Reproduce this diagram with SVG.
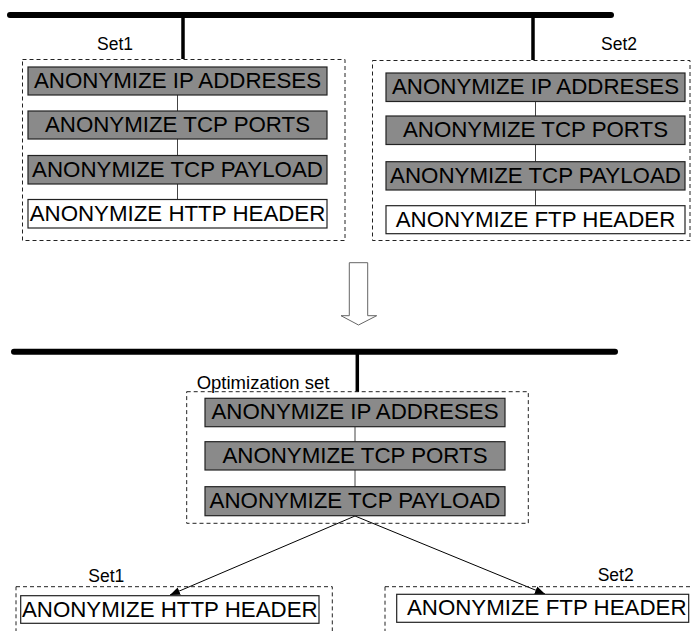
<svg xmlns="http://www.w3.org/2000/svg" width="693" height="631" viewBox="0 0 693 631">
<style>
text{font-family:"Liberation Sans",Arial,sans-serif;fill:#000}
.nt{font-size:22.3px;text-anchor:middle}
.lbl{font-size:17.5px}
.g{fill:#8a8a8a;stroke:#222;stroke-width:1.2}
.w{fill:#fff;stroke:#222;stroke-width:1.2}
.set{fill:none;stroke:#222;stroke-width:1;stroke-dasharray:4 3}
.bus{stroke:#000;stroke-width:6;stroke-linecap:round}
.stem{stroke:#000;stroke-width:3.5}
.lk{stroke:#444;stroke-width:1}
.arr{stroke:#000;stroke-width:1;fill:none;marker-end:url(#ah)}
</style>
<defs>
<marker id="ah" viewBox="0 0 10 10" refX="10" refY="5" markerWidth="10" markerHeight="10" markerUnits="userSpaceOnUse" orient="auto">
<path d="M0,1 L10,5 L0,9 z" fill="#000"/>
</marker>
</defs>
<rect width="693" height="631" fill="#fff"/>

<g id="connectors">
<line class="bus" x1="10" y1="15" x2="611" y2="15"/>
<line class="stem" x1="183" y1="15" x2="183" y2="59"/>
<line class="stem" x1="533" y1="15" x2="533" y2="60"/>
<line class="lk" x1="177.5" y1="95" x2="177.5" y2="111"/>
<line class="lk" x1="177.5" y1="139" x2="177.5" y2="155"/>
<line class="lk" x1="177.5" y1="184" x2="177.5" y2="199"/>
<line class="lk" x1="535.5" y1="101" x2="535.5" y2="116"/>
<line class="lk" x1="535.5" y1="144" x2="535.5" y2="162"/>
<line class="lk" x1="535.5" y1="190" x2="535.5" y2="206"/>
<polygon points="349.3,262.7 367.7,262.7 367.7,315.7 376.7,315.7 358.5,325 341,315.7 349.3,315.7" fill="#fff" stroke="#666" stroke-width="1"/>
<line class="bus" x1="14" y1="351.7" x2="615" y2="351.7"/>
<line class="stem" x1="357.3" y1="351.7" x2="357.3" y2="392"/>
<line class="lk" x1="355" y1="427" x2="355" y2="442"/>
<line class="lk" x1="355" y1="470" x2="355" y2="487"/>
<line class="arr" x1="355" y1="516" x2="170" y2="595"/>
<line class="arr" x1="355" y1="516" x2="545" y2="594"/>
</g>

<g id="set1-top">
<rect class="set" x="22.5" y="59.5" width="322.5" height="181"/>
<text class="lbl" x="97" y="50">Set1</text>
</g>
<g id="s1-ip"><rect class="g" x="28" y="67" width="299" height="28"/><text class="nt" x="177.5" y="87.5">ANONYMIZE IP ADDRESES</text></g>
<g id="s1-ports"><rect class="g" x="28" y="111" width="299" height="28"/><text class="nt" x="177.5" y="131.5">ANONYMIZE TCP PORTS</text></g>
<g id="s1-payload"><rect class="g" x="28" y="155.5" width="299" height="28.5"/><text class="nt" x="177.5" y="176.5">ANONYMIZE TCP PAYLOAD</text></g>
<g id="s1-http"><rect class="w" x="28" y="199.5" width="299" height="28.5"/><text class="nt" x="177.5" y="220.5">ANONYMIZE HTTP HEADER</text></g>

<g id="set2-top">
<rect class="set" x="372.5" y="60.5" width="317.5" height="180"/>
<text class="lbl" x="601" y="50">Set2</text>
</g>
<g id="s2-ip"><rect class="g" x="386" y="73" width="299" height="28.5"/><text class="nt" x="535.5" y="94">ANONYMIZE IP ADDRESES</text></g>
<g id="s2-ports"><rect class="g" x="386" y="116" width="299" height="28.5"/><text class="nt" x="535.5" y="137">ANONYMIZE TCP PORTS</text></g>
<g id="s2-payload"><rect class="g" x="386" y="161.7" width="299" height="28.3"/><text class="nt" x="535.5" y="182.5">ANONYMIZE TCP PAYLOAD</text></g>
<g id="s2-ftp"><rect class="w" x="386" y="205.7" width="299" height="28"/><text class="nt" x="535.5" y="226.5">ANONYMIZE FTP HEADER</text></g>

<g id="opt-set">
<rect class="set" x="186.7" y="391.7" width="341.6" height="131.6"/>
<text x="196.7" y="389" style="font-size:18.5px">Optimization set</text>
</g>
<g id="o-ip"><rect class="g" x="205" y="398.3" width="300" height="28.4"/><text class="nt" x="355" y="419">ANONYMIZE IP ADDRESES</text></g>
<g id="o-ports"><rect class="g" x="205" y="441.7" width="300" height="28.3"/><text class="nt" x="355" y="462.5">ANONYMIZE TCP PORTS</text></g>
<g id="o-payload"><rect class="g" x="205" y="486.7" width="300" height="29"/><text class="nt" x="355" y="507.5">ANONYMIZE TCP PAYLOAD</text></g>

<g id="set1-bottom">
<rect class="set" x="16" y="586.7" width="316.3" height="60"/>
<text class="lbl" x="88.3" y="581.7">Set1</text>
</g>
<g id="b-http"><rect class="w" x="20.7" y="595.7" width="298.3" height="27.6"/><text class="nt" x="169.8" y="616.5">ANONYMIZE HTTP HEADER</text></g>

<g id="set2-bottom">
<rect class="set" x="385" y="586.7" width="320" height="60"/>
<text class="lbl" x="597.7" y="580.7">Set2</text>
</g>
<g id="b-ftp"><rect class="w" x="396.7" y="594.3" width="292" height="28"/><text class="nt" x="546.7" y="615">ANONYMIZE FTP HEADER</text></g>
</svg>
